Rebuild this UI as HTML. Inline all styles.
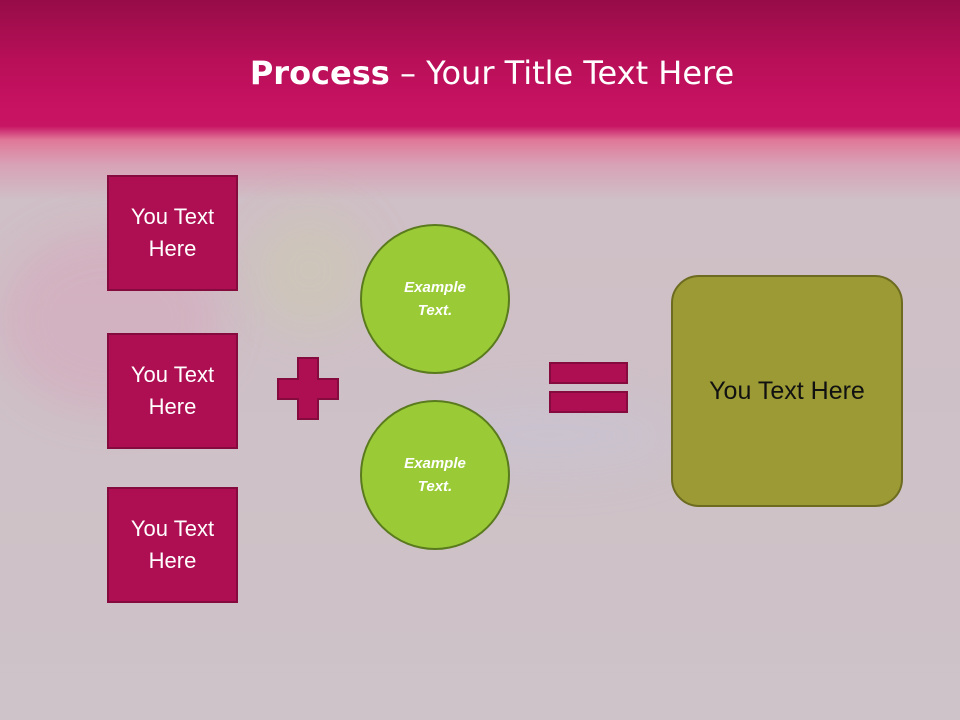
<!DOCTYPE html>
<html><head><style>
html,body{margin:0;padding:0}
body{width:960px;height:720px;position:relative;overflow:hidden;font-family:"Liberation Sans",sans-serif;
background:linear-gradient(to bottom,#960c48 0px,#b80f58 60px,#c81262 110px,#c71463 126px,#e07898 140px,#d8a2b6 165px,#cfbfc6 200px,#cdc3c8 720px);}
.smoke{position:absolute;border-radius:50%;filter:blur(22px);}
.box{position:absolute;left:107px;width:127px;height:112px;background:#ae0f52;border:2px solid #850a3e;color:#fff;font-size:22px;display:flex;align-items:center;justify-content:center;text-align:center;line-height:32px}
.circ{position:absolute;left:360px;width:146px;height:146px;border-radius:50%;background:#9acb37;border:2px solid #5a7a1e;color:#fff;font-size:15px;font-weight:bold;font-style:italic;display:flex;align-items:center;justify-content:center;text-align:center;line-height:23px}
.m{position:absolute;background:#ae0f52;border:2px solid #850a3e;box-sizing:border-box}
</style></head><body>
<div class="smoke" style="left:0;top:230px;width:220px;height:180px;background:rgba(230,120,170,.2)"></div>
<div class="smoke" style="left:250px;top:210px;width:120px;height:120px;background:rgba(200,220,140,.2)"></div>
<div class="smoke" style="left:420px;top:400px;width:260px;height:70px;background:rgba(190,200,230,.25)"></div>
<div style="position:absolute;top:54px;left:0;width:984px;text-align:center;color:#fff;font-size:32px;font-family:'DejaVu Sans','Liberation Sans',sans-serif"><b>Process</b> – Your Title Text Here</div>
<div class="box" style="top:175px">You Text<br>Here</div>
<div class="box" style="top:333px">You Text<br>Here</div>
<div class="box" style="top:487px">You Text<br>Here</div>
<div class="circ" style="top:224px">Example<br>Text.</div>
<div class="circ" style="top:400px">Example<br>Text.</div>
<svg style="position:absolute;left:0;top:0" width="960" height="720">
<path d="M298 358H318V379H338V399H318V419H298V399H278V379H298Z" fill="#ae0f52" stroke="#850a3e" stroke-width="2"/>
</svg>
<div class="m" style="left:549px;top:362px;width:79px;height:22px"></div>
<div class="m" style="left:549px;top:391px;width:79px;height:22px"></div>
<div style="position:absolute;left:671px;top:275px;width:228px;height:228px;border-radius:28px;background:#9b9a35;border:2px solid #6c6b20;display:flex;align-items:center;justify-content:center;font-size:25px;color:#111">You Text Here</div>
</body></html>
